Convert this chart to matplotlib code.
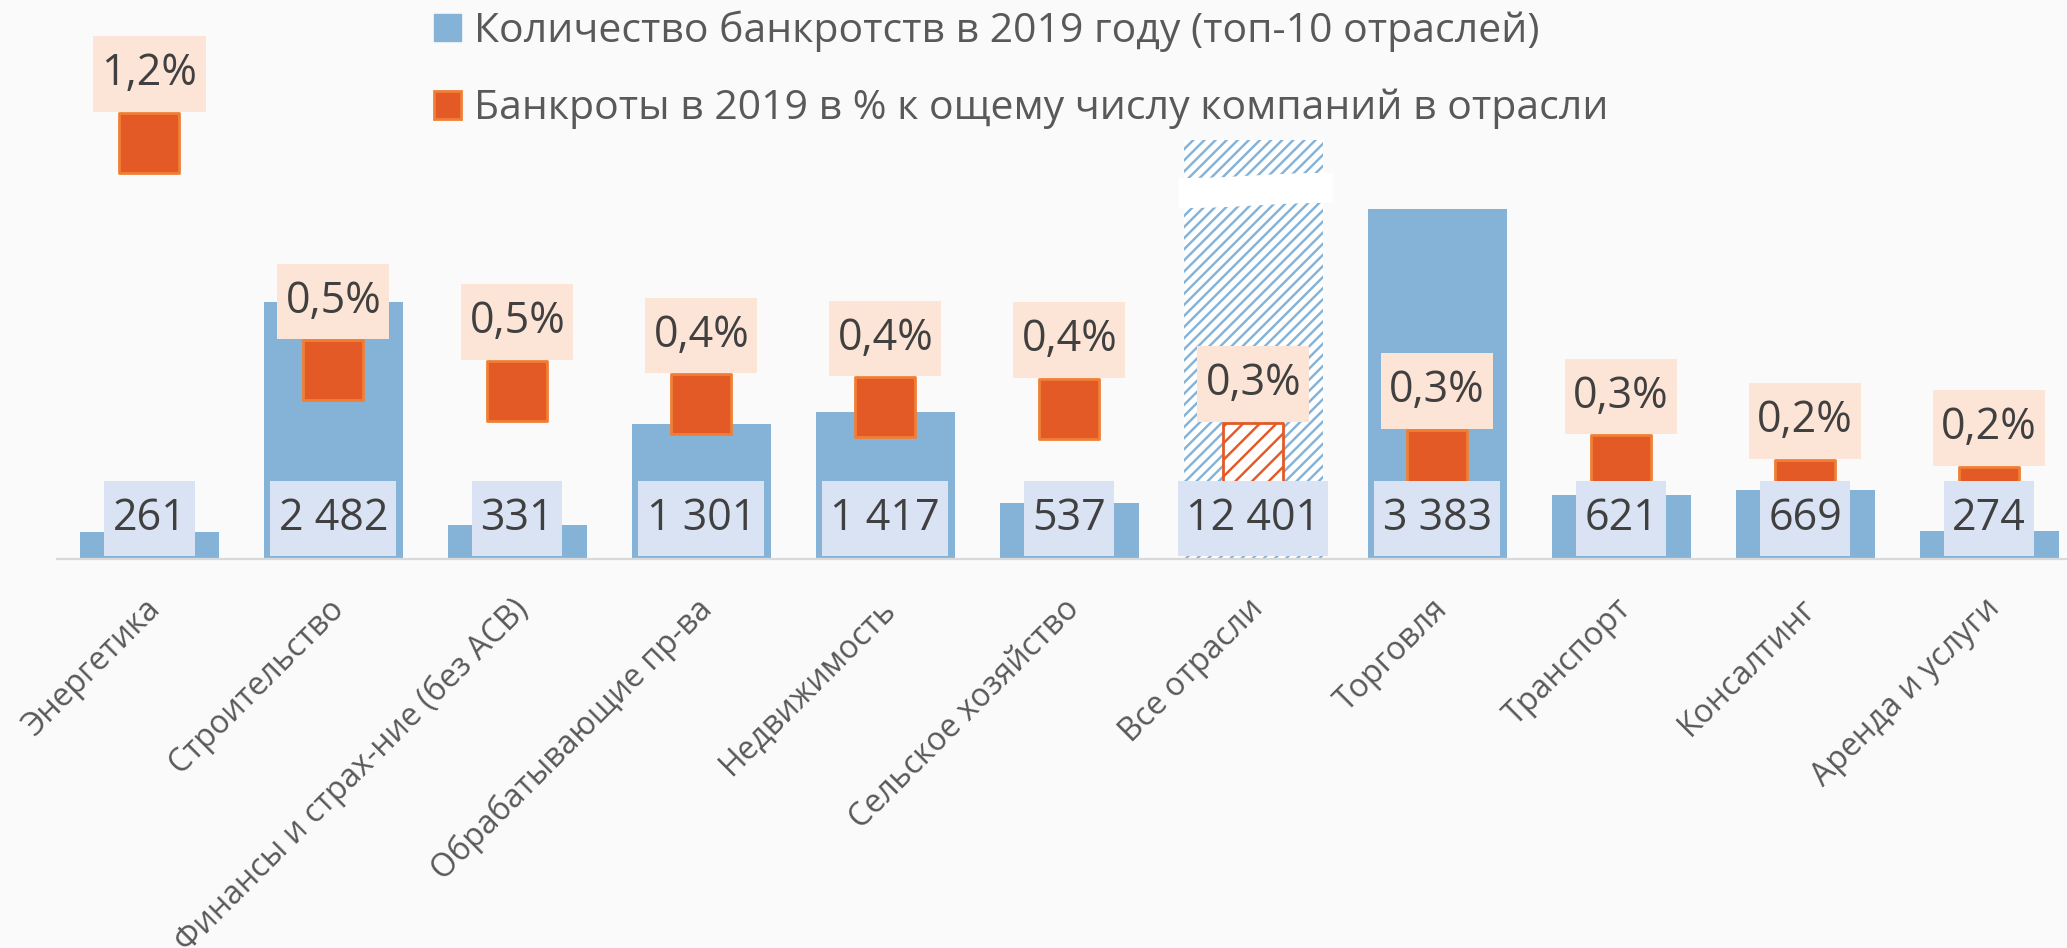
import numpy as np
import matplotlib
matplotlib.use('Agg')
import matplotlib.pyplot as plt
import matplotlib.transforms as mtransforms
from matplotlib.patches import Patch
from matplotlib.path import Path

# --- данные ---
categories = ['Энергетика', 'Строительство', 'Финансы и страх-ние (без АСВ)',
              'Обрабатывающие пр-ва', 'Недвижимость', 'Сельское хозяйство',
              'Все отрасли', 'Торговля', 'Транспорт', 'Консалтинг', 'Аренда и услуги']
counts = [261, 2482, 331, 1301, 1417, 537, 12401, 3383, 621, 669, 274]
pct = [1.2, 0.545, 0.485, 0.447, 0.438, 0.433, 0.306, 0.286, 0.27, 0.20, 0.18]
total_idx = 6          # столбец "Все отрасли" с разрывом
bar_cap = 4044         # до какой высоты рисуем разорванный столбец

legend_labels = ['Количество банкротств в 2019 году (топ-10 отраслей)',
                 'Банкроты в 2019 в % к ощему числу компаний в отрасли']

# --- цвета ---
bg = '#fafafa'
blue = '#85b3d8'
orange = '#e45a26'
orange_edge = '#f07f35'
text_dark = '#404040'
text_grey = '#595959'
font = 'Open Sans'

plt.rcParams['hatch.linewidth'] = 1.75


def label_box(x0, y0, width, height, mutation_size):
    # прямоугольник с разными отступами по горизонтали и вертикали
    px = 0.19 * mutation_size
    py = 0.36 * mutation_size
    x0, y0 = x0 - px, y0 - py
    x1, y1 = x0 + width + 2 * px, y0 + height + 2 * py
    return Path([(x0, y0), (x1, y0), (x1, y1), (x0, y1), (x0, y0)], closed=True)


fig = plt.figure(figsize=(20.67, 9.48), dpi=100, facecolor=bg)
ax = fig.add_axes([0.0278, 0.4103, 0.979, 0.5897])
ax.set_facecolor(bg)

x = np.arange(len(categories))
heights = [min(c, bar_cap) for c in counts]
bars = ax.bar(x, heights, width=0.755, color=blue, zorder=2)
bars[total_idx].set_facecolor('white')
bars[total_idx].set_edgecolor(blue)
bars[total_idx].set_linewidth(0)
bars[total_idx].set_hatch('///')

# белая полоса разрыва
bx = np.linspace(total_idx - 0.41, total_idx + 0.43, 40)
wave = 25 * np.sin((bx - total_idx) * 4.0)
ax.fill_between(bx, bar_cap - 627 + wave, bar_cap - 337 + wave, color='white',
                lw=0, zorder=3)

ax.set_xlim(-0.5, 10.5)
ax.set_ylim(0, 5396)
ax.set_yticks([])
for s in ['top', 'left', 'right']:
    ax.spines[s].set_visible(False)
ax.spines['bottom'].set_color('#d9d9d9')
ax.spines['bottom'].set_linewidth(1.6)
ax.set_xticks(x)
ax.set_xticklabels(categories, rotation=45, ha='right', va='top',
                   rotation_mode='anchor', family=font, fontsize=23, color=text_grey)
ax.tick_params(axis='x', length=0, pad=24)
shift = mtransforms.ScaledTranslation(-0.06, 0, fig.dpi_scale_trans)
for lab in ax.get_xticklabels():
    lab.set_transform(lab.get_transform() + shift)

# вторая ось для процентов
ax2 = ax.twinx()
ax2.set_ylim(0, 1.6124)
ax2.set_yticks([])
for s in ['top', 'left', 'right', 'bottom']:
    ax2.spines[s].set_visible(False)

msize = 43.5 ** 2
normal = [i for i in x if i != total_idx]
ax2.scatter(x[normal], [pct[i] for i in normal], marker='s', s=msize,
            facecolor=orange, edgecolor=orange_edge, linewidth=2, zorder=3)
ax2.scatter([total_idx], [pct[total_idx]], marker='s', s=msize,
            facecolors='white', edgecolors=orange, linewidth=2,
            hatch='//', zorder=3)

# подписи процентов
for i, v in enumerate(pct):
    lbl = f'{v:.1f}'.replace('.', ',') + '%'
    ax2.annotate(lbl, (i, v), xytext=(0, 49.5), textcoords='offset points',
                 ha='center', va='center', family=font, fontsize=31, color=text_dark,
                 bbox=dict(boxstyle=label_box, fc='#fce4d6', ec='none'),
                 zorder=5)

# подписи количества
for i, c in enumerate(counts):
    lbl = f'{c:,}'.replace(',', ' ')
    ax2.annotate(lbl, (i, 0), xytext=(0, 29.2), textcoords='offset points',
                 ha='center', va='center', family=font, fontsize=31, color=text_dark,
                 bbox=dict(boxstyle=label_box, fc='#dae3f3', ec='none'),
                 zorder=6)

# легенда
handles = [Patch(facecolor=blue, edgecolor=blue),
           Patch(facecolor=orange, edgecolor=orange_edge, linewidth=2)]
leg = fig.legend(handles, legend_labels, loc='upper left', bbox_to_anchor=(0.21, 0.989),
                 frameon=False, borderpad=0, borderaxespad=0,
                 handlelength=0.66, handleheight=0.66, handletextpad=0.32,
                 labelspacing=0.9, prop={'family': font, 'size': 29.5})
for t in leg.get_texts():
    t.set_color(text_grey)

fig.savefig('out.png', dpi=100, facecolor=bg)
